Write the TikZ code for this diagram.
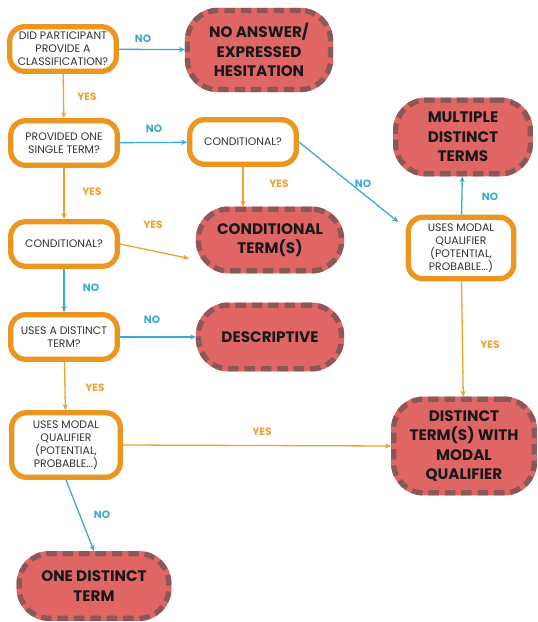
\documentclass[tikz,border=0pt]{standalone}
\usepackage{fontspec}
\setmainfont{Poppins}
\usetikzlibrary{arrows.meta}

\definecolor{boxorange}{HTML}{EB961E}
\definecolor{lineorange}{HTML}{F0A030}
\definecolor{termred}{HTML}{E06666}
\definecolor{termedge}{HTML}{8C5757}
\definecolor{noblue}{HTML}{3CAAD4}
\definecolor{qtext}{HTML}{333333}

\begin{document}
\begin{tikzpicture}[x=0.03cm, y=-0.03cm, inner sep=0mm,
		question/.style={draw=boxorange, line width=4.5pt, rounded corners=0.45cm, fill=white, align=center, text=qtext, font=\fontsize{9.3}{11.2}\selectfont, minimum width=3.2cm, minimum height=1.34cm},
		terminal/.style={fill=termred, draw=termedge, line width=4.5pt, dash pattern=on 9pt off 5pt, rounded corners=0.9cm, preaction={draw=termred, line width=4.5pt, solid}, align=center, text=black!90, font=\fontsize{13}{16.5}\selectfont\bfseries, minimum width=4.29cm},
		yesarrow/.style={-{Stealth[length=5pt, width=4.5pt]}, line width=1.1pt, lineorange},
		noarrow/.style={-{Stealth[length=5pt, width=4.5pt]}, line width=1.1pt, noblue},
		yestext/.style={text=lineorange, font=\fontsize{9}{9}\selectfont\bfseries},
		notext/.style={text=noblue, font=\fontsize{9}{9}\selectfont\bfseries}]

		\useasboundingbox (0,0) rectangle (537,622);

		% questions
		\node [question] (q1) at (63,49) {DID PARTICIPANT\\PROVIDE A\\CLASSIFICATION?};
		\node [question] (q2) at (64,143) {PROVIDED ONE\\SINGLE TERM?};
		\node [question] (q3) at (243,142) {CONDITIONAL?};
		\node [question] (q4) at (64,244) {CONDITIONAL?};
		\node [question, minimum width=3.17cm, minimum height=1.85cm] (q5) at (461,248) {USES MODAL\\QUALIFIER\\(POTENTIAL,\\PROBABLE...)};
		\node [question] (q6) at (64,337) {USES A DISTINCT\\TERM?};
		\node [question, minimum width=3.26cm, minimum height=1.94cm] (q7) at (66,445) {USES MODAL\\QUALIFIER\\(POTENTIAL,\\PROBABLE...)};

		% outcomes
		\node [terminal, minimum height=2.37cm] (a1) at (259,50) {NO ANSWER/\\EXPRESSED\\HESITATION};
		\node [terminal, minimum width=4.04cm, minimum height=2.21cm] (a2) at (463,137) {MULTIPLE\\DISTINCT\\TERMS};
		\node [terminal, minimum height=1.85cm] (a3) at (270,240) {CONDITIONAL\\TERM(S)};
		\node [terminal, minimum height=1.91cm] (a4) at (270,337) {DESCRIPTIVE};
		\node [terminal, minimum width=4.22cm, minimum height=2.81cm] (a5) at (464,446) {DISTINCT\\TERM(S) WITH\\MODAL\\QUALIFIER};
		\node [terminal, minimum width=4.49cm, minimum height=1.94cm] (a6) at (94,586) {ONE DISTINCT\\TERM};

		\draw[noarrow] (q1) -- (a1);
		\draw[yesarrow] (q1) -- (q2);
		\draw[noarrow] (q2) -- (q3);
		\draw[yesarrow] (q2) -- (q4);
		\draw[yesarrow] (q3.south) -- (q3.south |- a3.north);
		\draw[noarrow, shorten >=8pt] (q3.east) -- (q5.160);
		\draw[yesarrow, shorten >=6pt] (q4.east) -- (a3.195);
		\draw[noarrow] (q4) -- (q6);
		\draw[noarrow] (q5) -- (a2);
		\draw[yesarrow] (q5) -- (a5);
		\draw[noarrow] (q6) -- (a4);
		\draw[yesarrow] (q6) -- (q7);
		\draw[yesarrow] (q7.east) -- (a5.west);
		\draw[noarrow] (q7.south) -- (a6.north);

		\foreach \n/\x/\y in {1/87/97, 2/92/192, 3/279/184, 4/153/225, 5/95/388, 6/262/432, 7/490/345}
		{
			\node [yestext] (yes\n) at (\x,\y) {YES};
		}

		\foreach \n/\x/\y in {1/143/39, 2/154/129, 3/363/184, 4/490/197, 5/91/288, 6/152/320, 7/102/515}
		{
			\node [notext] (no\n) at (\x,\y) {NO};
		}

		\end{tikzpicture}
\end{document}
